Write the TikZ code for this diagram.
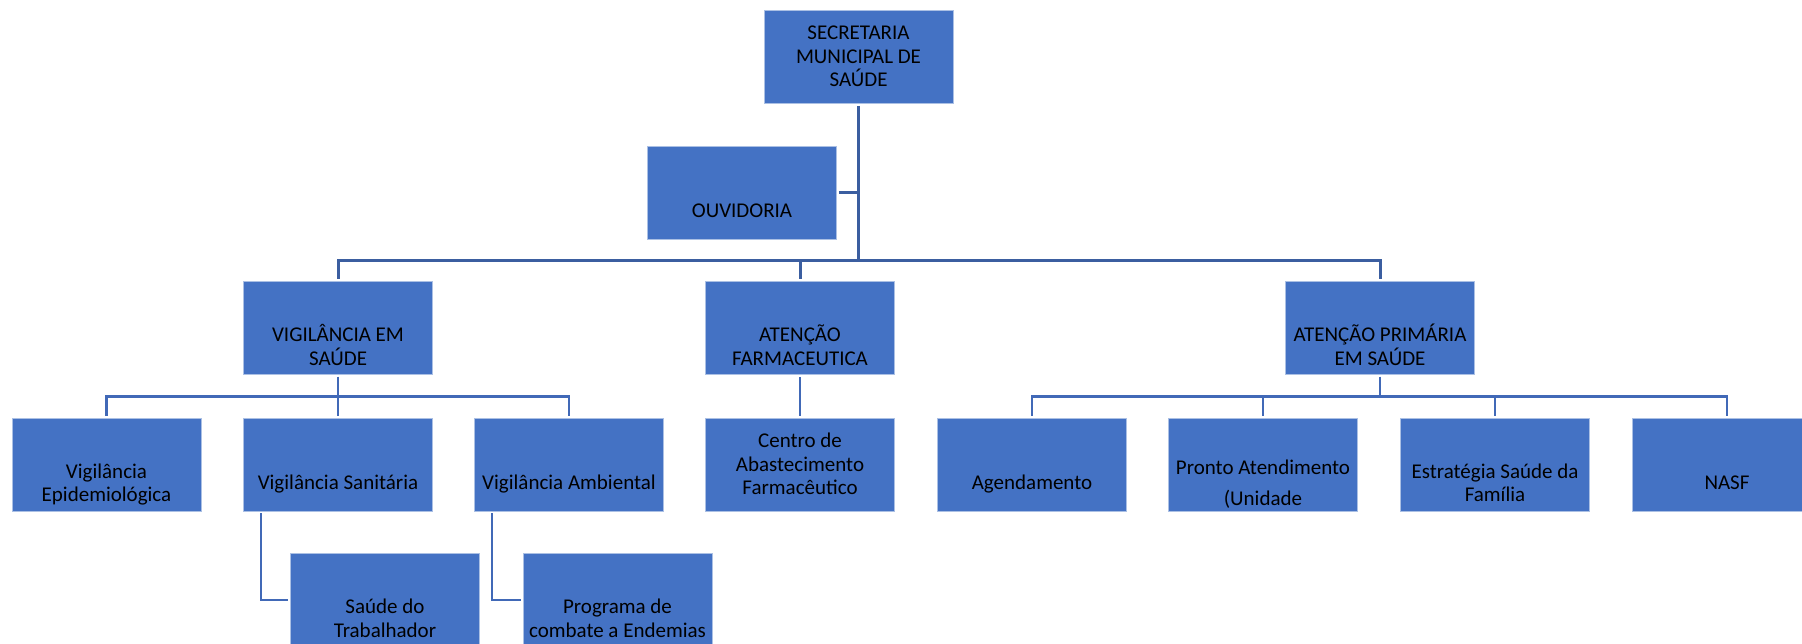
\documentclass[tikz,border=0pt]{standalone}
\usepackage{fontspec}
\setmainfont{Carlito}
\definecolor{azulcaixa}{HTML}{4472C4}
\definecolor{azullinha}{HTML}{3B5EA0}
\definecolor{azulramo}{HTML}{4169B7}

\begin{document}
\begin{tikzpicture}[x=1pt,y=-1pt,
  caixa/.style={rectangle, fill=azulcaixa, draw=azulcaixa!45!white, line width=0.8pt,
    minimum width=189pt, minimum height=93pt, inner sep=0pt, align=center,
    font=\fontsize{21}{23.5}\selectfont},
  umalinha/.style={text height=56pt, text depth=7pt},
  duaslinhas/.style={text height=81pt, text depth=7pt},
  treslinhas/.style={text height=67pt, text depth=7pt},
  tronco/.style={draw=azullinha, line width=3pt},
  ramo/.style={draw=azulramo, line width=2.6pt, shorten <=2pt, shorten >=2pt}]

  % Page frame
  \clip (0,0) rectangle (1802,644);

  % Top
  \node[caixa, treslinhas] (sms) at (858.5,57) {SECRETARIA\\MUNICIPAL DE\\SAÚDE};
  \node[caixa, umalinha] (ouv) at (742,193) {OUVIDORIA};
  \coordinate (juncao) at (858.5,261);

  % Second level
  \node[caixa, duaslinhas] (ves) at (338,328) {VIGILÂNCIA EM\\SAÚDE};
  \node[caixa, duaslinhas] (farm) at (800,328) {ATENÇÃO\\FARMACEUTICA};
  \node[caixa, duaslinhas] (aps) at (1380,328) {ATENÇÃO PRIMÁRIA\\EM SAÚDE};

  % Third level
  \node[caixa, duaslinhas] (epid) at (106.5,464.5) {Vigilância\\Epidemiológica};
  \node[caixa, umalinha] (sanit) at (338,464.5) {Vigilância Sanitária};
  \node[caixa, umalinha] (amb) at (569,464.5) {Vigilância Ambiental};
  \node[caixa, treslinhas] (cab) at (800,464.5) {Centro de\\Abastecimento\\Farmacêutico};
  \node[caixa, umalinha] (agend) at (1032,464.5) {Agendamento};
  \node[caixa, text height=85pt, text depth=3pt] (pronto) at (1263,464.5) {Pronto Atendimento\\[7.5pt](Unidade};
  \node[caixa, duaslinhas] (esf) at (1495,464.5) {Estratégia Saúde da\\Família};
  \node[caixa, umalinha] (nasf) at (1727,464.5) {NASF};

  % Fourth level
  \node[caixa, duaslinhas] (trab) at (385,600) {Saúde do\\Trabalhador};
  \node[caixa, duaslinhas] (prog) at (617.5,600) {Programa de\\combate a Endemias};

  % Trunk
  \draw[tronco, shorten <=2pt] (sms.south) -- (juncao);
  \draw[tronco, shorten <=2pt] (ouv.east) -- (ouv.east -| juncao);
  \draw[tronco, shorten >=2pt] (juncao) -| (ves.north);
  \draw[tronco, shorten >=2pt] (juncao) -| (aps.north);
  \draw[tronco, shorten >=2pt] (farm.north |- juncao) -- (farm.north);

  % Vigilancia branches
  \draw[ramo] (ves.south) -- ++(0,21.5) -| (epid.north);
  \draw[ramo] (ves.south) -- (sanit.north);
  \draw[ramo] (ves.south) -- ++(0,21.5) -| (amb.north);
  \draw[ramo] ([xshift=18pt]sanit.south west) |- (trab.west);
  \draw[ramo] ([xshift=18pt]amb.south west) |- (prog.west);

  % Farmacia
  \draw[ramo] (farm.south) -- (cab.north);

  % Atencao primaria branches
  \draw[ramo] (aps.south) -- ++(0,21.5) -| (agend.north);
  \draw[ramo] (aps.south) -- ++(0,21.5) -| (pronto.north);
  \draw[ramo] (aps.south) -- ++(0,21.5) -| (esf.north);
  \draw[ramo] (aps.south) -- ++(0,21.5) -| (nasf.north);

\end{tikzpicture}
\end{document}
